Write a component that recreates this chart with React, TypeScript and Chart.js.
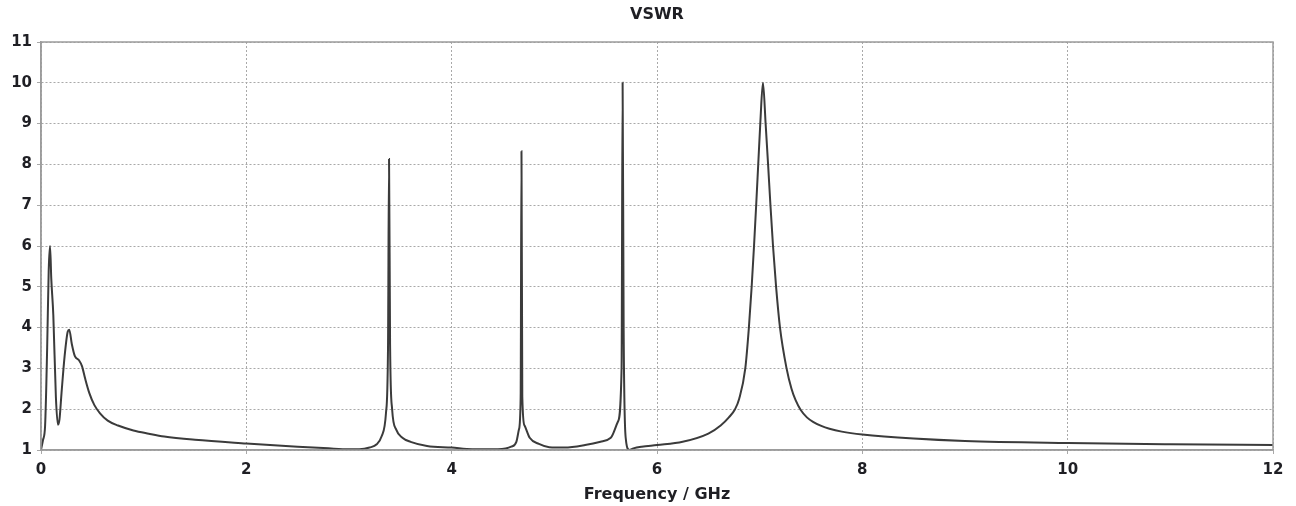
import React, { useEffect, useRef } from "react";
import { Chart, registerables } from "chart.js";

Chart.register(...registerables);

// Frequency sweep (GHz) and the measured VSWR at each frequency
const freqGHz: number[] = [
  0.0, 0.02, 0.04, 0.06, 0.075, 0.088, 0.1, 0.12, 0.145, 0.165, 0.18, 0.2, 0.23, 0.26, 0.275,
  0.3, 0.33, 0.37, 0.4, 0.43, 0.47, 0.52, 0.575, 0.65, 0.75, 0.9, 1.05, 1.2, 1.5, 2.0,
  2.5, 2.8, 3.0, 3.1, 3.2, 3.27, 3.32, 3.36, 3.38, 3.39, 3.4, 3.42, 3.46, 3.52, 3.6,
  3.76, 4.0, 4.2, 4.45, 4.58, 4.63, 4.655, 4.672, 4.68, 4.688, 4.71, 4.76, 4.85, 4.95, 5.1,
  5.3, 5.45, 5.55, 5.62, 5.655, 5.665, 5.675, 5.695, 5.73, 5.77, 5.85, 6.0, 6.25, 6.5, 6.62,
  6.7, 6.76, 6.8, 6.86, 6.895, 6.922, 6.945, 6.966, 6.986, 7.006, 7.032, 7.058, 7.082, 7.105, 7.13,
  7.16, 7.198, 7.262, 7.31, 7.35, 7.4, 7.46, 7.52, 7.6, 7.68, 7.8, 8.0, 8.5, 9.0, 10.0, 11.0, 12.0,
];

const vswr: number[] = [
  1.0, 1.25, 1.6, 3.5, 5.4, 6.0, 5.2, 4.3, 2.3, 1.62, 1.75, 2.4, 3.3, 3.9, 3.95,
  3.6, 3.3, 3.2, 3.05, 2.75, 2.4, 2.1, 1.9, 1.72, 1.6, 1.48, 1.4, 1.33, 1.25, 1.16,
  1.08, 1.04, 1.02, 1.02, 1.06, 1.14, 1.35, 1.9, 3.5, 8.13, 3.6, 2.0, 1.5, 1.3, 1.2,
  1.1, 1.06, 1.02, 1.02, 1.08, 1.2, 1.5, 2.3, 8.32, 2.3, 1.6, 1.3, 1.15, 1.07, 1.06,
  1.12, 1.2, 1.3, 1.7, 3.0, 10.0, 4.0, 1.3, 1.0, 1.04, 1.08, 1.12, 1.2, 1.4, 1.6,
  1.8, 2.0, 2.25, 3.0, 4.0, 5.0, 6.0, 7.0, 8.0, 9.0, 10.0, 9.0, 8.0, 7.0, 6.0,
  5.0, 4.0, 3.0, 2.5, 2.22, 1.98, 1.8, 1.69, 1.59, 1.52, 1.45, 1.38, 1.28, 1.22, 1.17, 1.14, 1.12,
];

const xTicks: number[] = [0, 2, 4, 6, 8, 10, 12];
const yTicks: number[] = [1, 2, 3, 4, 5, 6, 7, 8, 9, 10, 11];
const chartTitle = "VSWR";
const xAxisTitle = "Frequency / GHz";

const FONT = "'DejaVu Sans', Verdana, sans-serif";
const GRID = "#a9a9a9";
const FRAME = "#9c9c9c";
const TEXT = "#1f1f24";

// Solid frame around the plot area and the title centred over it
const framePlugin = {
  id: "plotFrame",
  afterDraw(chart: any) {
    const { ctx, chartArea } = chart;
    ctx.save();
    ctx.strokeStyle = FRAME;
    ctx.lineWidth = 1.5;
    ctx.strokeRect(chartArea.left, chartArea.top, chartArea.right - chartArea.left, chartArea.bottom - chartArea.top);
    ctx.fillStyle = TEXT;
    ctx.font = `bold 16px ${FONT}`;
    ctx.textAlign = "center";
    ctx.textBaseline = "middle";
    ctx.fillText(chartTitle, (chartArea.left + chartArea.right) / 2, 15);
    ctx.restore();
  },
};

export default function App() {
  const canvasRef = useRef<HTMLCanvasElement | null>(null);

  useEffect(() => {
    if (!canvasRef.current) return;
    const points = freqGHz.map((f, i) => ({ x: f, y: vswr[i] }));
    const chart = new Chart(canvasRef.current, {
      type: "line",
      data: {
        datasets: [
          {
            label: chartTitle,
            data: points,
            borderColor: "#3b3b3b",
            borderWidth: 2,
            pointRadius: 0,
            fill: false,
            cubicInterpolationMode: "monotone",
          },
        ],
      },
      options: {
        animation: false,
        responsive: false,
        layout: { padding: { left: 0, right: 23, top: 42, bottom: 0 } },
        plugins: {
          legend: { display: false },
          tooltip: { enabled: false },
          title: { display: false },
        },
        scales: {
          x: {
            type: "linear",
            min: 0,
            max: 12,
            afterBuildTicks: (scale: any) => {
              scale.ticks = xTicks.map((v) => ({ value: v }));
            },
            afterFit: (scale: any) => {
              scale.height = 56;
            },
            ticks: {
              color: TEXT,
              padding: 7,
              font: { family: FONT, size: 15, weight: "bold" },
              callback: (v: any) => String(v),
            },
            grid: { color: GRID, lineWidth: 1, tickLength: 4, tickColor: GRID },
            border: { display: true, color: FRAME, width: 1.5, dash: [2, 2] },
            title: {
              display: true,
              text: xAxisTitle,
              color: TEXT,
              font: { family: FONT, size: 16, weight: "bold" },
              padding: { top: 0, bottom: 2 },
            },
          },
          y: {
            type: "linear",
            min: 1,
            max: 11,
            afterBuildTicks: (scale: any) => {
              scale.ticks = yTicks.map((v) => ({ value: v }));
            },
            afterFit: (scale: any) => {
              scale.width = 41;
            },
            ticks: {
              color: TEXT,
              padding: 5,
              font: { family: FONT, size: 15, weight: "bold" },
              callback: (v: any) => String(v),
            },
            grid: { color: GRID, lineWidth: 1, tickLength: 4, tickColor: GRID },
            border: { display: true, color: FRAME, width: 1.5, dash: [2, 2] },
          },
        },
      },
      plugins: [framePlugin],
    });
    return () => chart.destroy();
  }, []);

  return (
    <div style={{ position: "absolute", left: 0, top: 0, width: 1296, height: 506, background: "#ffffff" }}>
      <canvas ref={canvasRef} width={1296} height={506} style={{ display: "block" }} />
    </div>
  );
}
